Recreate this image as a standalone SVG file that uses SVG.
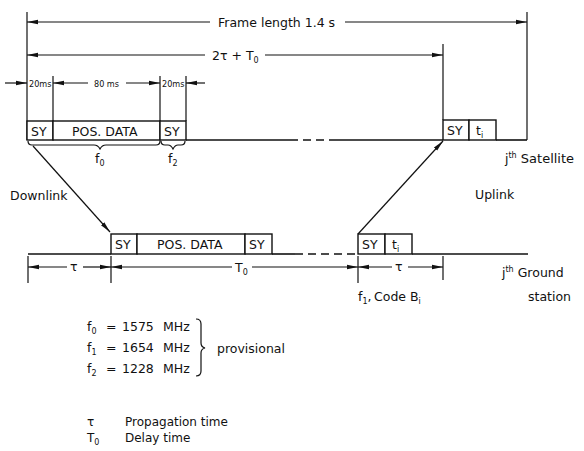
<svg xmlns="http://www.w3.org/2000/svg" width="584" height="451" viewBox="0 0 584 451">
<style>
text{font-family:"DejaVu Sans","Liberation Sans",sans-serif;fill:#111;font-size:12.5px}
.ln{stroke:#111;stroke-width:1.2;fill:none}
.th{stroke:#111;stroke-width:1.6;fill:none}
.box{stroke:#111;stroke-width:1.4;fill:#fff}
.ms{font-size:9px;font-family:"DejaVu Sans Condensed","DejaVu Sans",sans-serif}
.sm{font-size:8px}
.lg{font-size:12px}
.dash{stroke:#111;stroke-width:1.6;stroke-dasharray:8,5;fill:none}
</style>
<defs>
<marker id="ah" markerWidth="12" markerHeight="6" refX="11" refY="3" orient="auto-start-reverse" markerUnits="userSpaceOnUse">
<path d="M0,0.8 L11,3 L0,5.2 z" fill="#111"/>
</marker>
</defs>
<rect width="584" height="451" fill="#fff"/>

<g id="connectors">
<line class="ln" x1="27" y1="12" x2="27" y2="140"/>
<line class="ln" x1="527" y1="12" x2="527" y2="140"/>
<line class="ln" x1="443" y1="44" x2="443" y2="120"/>
<line class="ln" x1="53" y1="76" x2="53" y2="121"/>
<line class="ln" x1="160" y1="76" x2="160" y2="121"/>
<line class="ln" x1="186" y1="76" x2="186" y2="121"/>
<line class="ln" x1="210" y1="22" x2="27" y2="22" marker-end="url(#ah)"/>
<line class="ln" x1="345" y1="22" x2="527" y2="22" marker-end="url(#ah)"/>
<line class="ln" x1="205" y1="55" x2="27" y2="55" marker-end="url(#ah)"/>
<line class="ln" x1="265" y1="55" x2="443" y2="55" marker-end="url(#ah)"/>
<line class="ln" x1="5" y1="83" x2="27" y2="83" marker-end="url(#ah)"/>
<line class="ln" x1="88" y1="83" x2="53" y2="83" marker-end="url(#ah)"/>
<line class="ln" x1="126" y1="83" x2="160" y2="83" marker-end="url(#ah)"/>
<line class="ln" x1="205" y1="83" x2="186" y2="83" marker-end="url(#ah)"/>
<line class="th" x1="186" y1="140" x2="290" y2="140"/>
<line class="dash" x1="290" y1="140" x2="330" y2="140"/>
<line class="th" x1="330" y1="140" x2="443" y2="140"/>
<line class="th" x1="496" y1="140" x2="527" y2="140"/>
<path class="ln" d="M28,141 q0,4 4,4 h62 q4,0 6,4 q2,-4 6,-4 h50 q4,0 4,-4"/>
<path class="ln" d="M161,141 q0,4 4,4 h3 q3,0 5,4 q2,-4 5,-4 h3 q4,0 4,-4"/>
<line class="ln" x1="33" y1="146" x2="110" y2="232" marker-end="url(#ah)"/>
<line class="ln" x1="358" y1="234" x2="443" y2="141" marker-end="url(#ah)"/>
<line class="th" x1="28" y1="254" x2="111" y2="254"/>
<line class="th" x1="272" y1="254" x2="295" y2="254"/>
<line class="dash" x1="295" y1="254" x2="358" y2="254"/>
<line class="th" x1="412" y1="254" x2="528" y2="254"/>
<line class="ln" x1="28" y1="256" x2="28" y2="283"/>
<line class="ln" x1="111" y1="256" x2="111" y2="283"/>
<line class="ln" x1="358" y1="256" x2="358" y2="283"/>
<line class="ln" x1="443" y1="256" x2="443" y2="280"/>
<line class="ln" x1="67" y1="267" x2="28" y2="267" marker-end="url(#ah)"/>
<line class="ln" x1="83" y1="267" x2="111" y2="267" marker-end="url(#ah)"/>
<line class="ln" x1="232" y1="267" x2="111" y2="267" marker-end="url(#ah)"/>
<line class="ln" x1="252" y1="267" x2="358" y2="267" marker-end="url(#ah)"/>
<line class="ln" x1="392" y1="267" x2="358" y2="267" marker-end="url(#ah)"/>
<line class="ln" x1="408" y1="267" x2="443" y2="267" marker-end="url(#ah)"/>
<path class="ln" d="M196,319 q5,0 5,5 v19 q0,4 4,5 q-4,1 -4,5 v18 q0,5 -5,5"/>
</g>

<g id="labels-top">
<text x="218" y="27">Frame length 1.4 s</text>
<text x="212" y="60">2τ + T<tspan class="sm" dy="3">0</tspan></text>
<text class="ms" x="29" y="86.5">20ms</text>
<text class="ms" x="94" y="86.5">80 ms</text>
<text class="ms" x="162" y="86.5">20ms</text>
</g>

<g id="sat-frame">
<rect class="box" x="27" y="121" width="26" height="19"/>
<text x="31" y="135.5">SY</text>
<rect class="box" x="53" y="121" width="107" height="19"/>
<text x="72" y="135.5">POS. DATA</text>
<rect class="box" x="160" y="121" width="26" height="19"/>
<text x="164" y="135.5">SY</text>
<text x="95" y="163">f<tspan class="sm" dy="3">0</tspan></text>
<text x="168" y="163">f<tspan class="sm" dy="3">2</tspan></text>
</g>

<g id="sat-uplink">
<rect class="box" x="443" y="120" width="26" height="20"/>
<text x="447" y="135">SY</text>
<rect class="box" x="469" y="120" width="27" height="20"/>
<text x="476" y="135">t<tspan class="sm" dy="3">i</tspan></text>
</g>

<g id="ground-frame">
<rect class="box" x="111" y="234" width="26" height="20"/>
<text x="115" y="249">SY</text>
<rect class="box" x="137" y="234" width="108" height="20"/>
<text x="157" y="249">POS. DATA</text>
<rect class="box" x="245" y="234" width="27" height="20"/>
<text x="249" y="249">SY</text>
</g>

<g id="ground-uplink">
<rect class="box" x="358" y="234" width="27" height="20"/>
<text x="362" y="249">SY</text>
<rect class="box" x="385" y="234" width="27" height="20"/>
<text x="392" y="249">t<tspan class="sm" dy="3">i</tspan></text>
</g>

<g id="labels-side">
<text x="505" y="163">j<tspan class="sm" dy="-5">th</tspan><tspan dy="5" font-size="13"> Satellite</tspan></text>
<text x="475" y="199">Uplink</text>
<text x="10" y="200">Downlink</text>
<text x="502" y="277">j<tspan class="sm" dy="-5">th</tspan><tspan dy="5"> Ground</tspan></text>
<text x="528" y="301">station</text>
<text x="70" y="271">τ</text>
<text x="235" y="272">T<tspan class="sm" dy="3">0</tspan></text>
<text x="395" y="271">τ</text>
<text x="358" y="301">f<tspan class="sm" dy="3">1</tspan><tspan dy="-3">,</tspan><tspan x="374">Code B</tspan><tspan class="sm" dy="3">i</tspan></text>
</g>

<g id="legend">
<text x="87" y="331">f<tspan class="sm" dy="3">0</tspan></text>
<text x="106" y="331">=</text>
<text x="122" y="331">1575</text>
<text x="163" y="331">MHz</text>
<text x="87" y="352">f<tspan class="sm" dy="3">1</tspan></text>
<text x="106" y="352">=</text>
<text x="122" y="352">1654</text>
<text x="163" y="352">MHz</text>
<text x="87" y="373">f<tspan class="sm" dy="3">2</tspan></text>
<text x="106" y="373">=</text>
<text x="122" y="373">1228</text>
<text x="163" y="373">MHz</text>
<text x="217" y="353">provisional</text>
<text class="lg" x="87" y="426">τ</text>
<text class="lg" x="125" y="426">Propagation time</text>
<text class="lg" x="87" y="442">T<tspan class="sm" dy="3">0</tspan></text>
<text class="lg" x="125" y="442">Delay time</text>
</g>
</svg>
